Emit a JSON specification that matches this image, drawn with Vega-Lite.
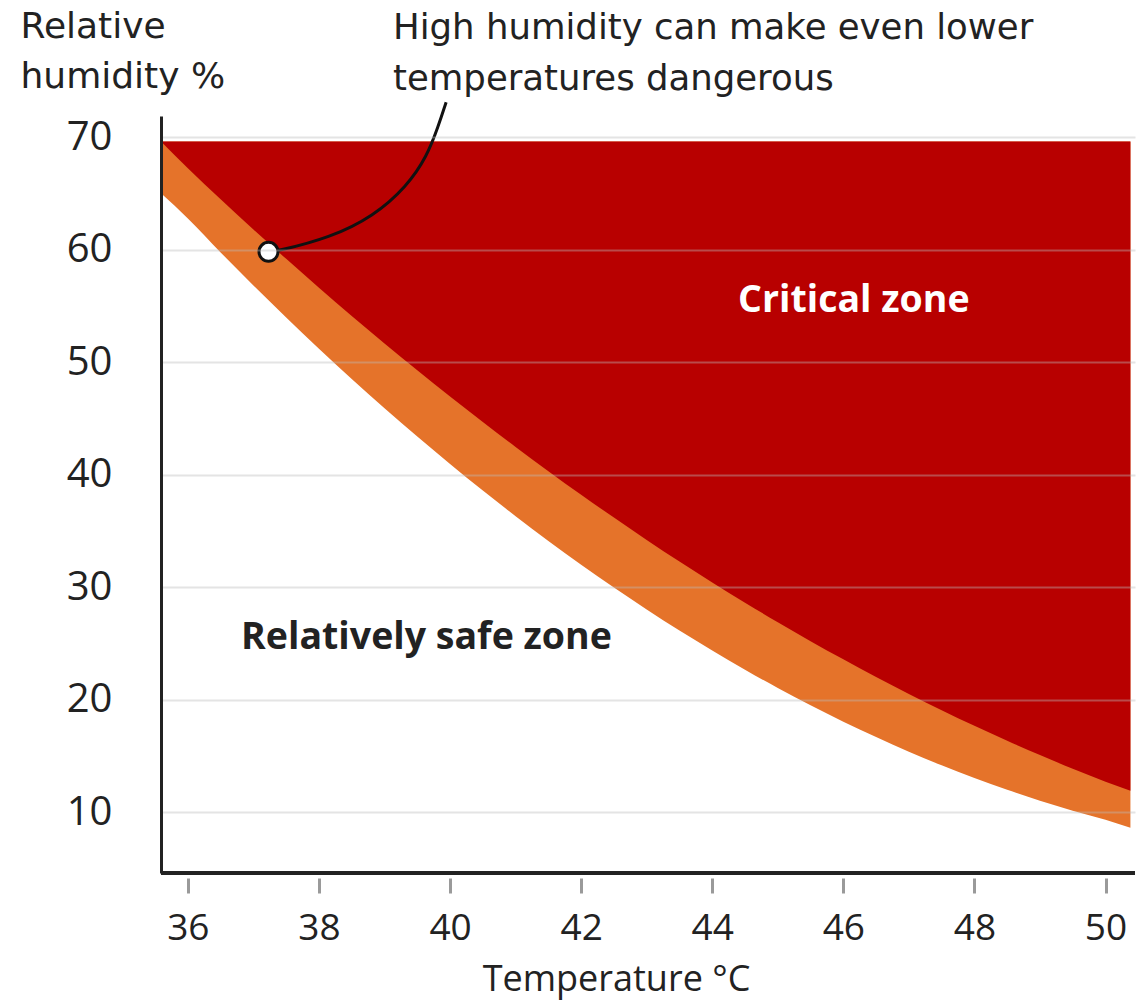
{
  "$schema": "https://vega.github.io/schema/vega-lite/v6.json",
  "width": 974,
  "height": 757,
  "autosize": {"type": "none"},
  "padding": {"left": 161, "top": 116, "right": 11, "bottom": 131},
  "background": "white",
  "config": {
    "view": {"stroke": null},
    "font": "Open Sans"
  },
  "datasets": {
    "band": [
      {"temp": 35.59, "upper": 69.6, "lower": 65.0},
      {"temp": 36.0, "upper": 67.22, "lower": 62.76},
      {"temp": 36.5, "upper": 64.47, "lower": 59.74},
      {"temp": 37.0, "upper": 61.79, "lower": 56.81},
      {"temp": 37.5, "upper": 59.17, "lower": 53.96},
      {"temp": 38.0, "upper": 56.6, "lower": 51.19},
      {"temp": 38.5, "upper": 54.1, "lower": 48.5},
      {"temp": 39.0, "upper": 51.65, "lower": 45.9},
      {"temp": 39.5, "upper": 49.26, "lower": 43.38},
      {"temp": 40.0, "upper": 46.93, "lower": 40.94},
      {"temp": 40.5, "upper": 44.66, "lower": 38.58},
      {"temp": 41.0, "upper": 42.45, "lower": 36.3},
      {"temp": 41.5, "upper": 40.3, "lower": 34.1},
      {"temp": 42.0, "upper": 38.2, "lower": 31.99},
      {"temp": 42.5, "upper": 36.17, "lower": 29.96},
      {"temp": 43.0, "upper": 34.19, "lower": 28.01},
      {"temp": 43.5, "upper": 32.27, "lower": 26.14},
      {"temp": 44.0, "upper": 30.41, "lower": 24.36},
      {"temp": 44.5, "upper": 28.61, "lower": 22.65},
      {"temp": 45.0, "upper": 26.87, "lower": 21.03},
      {"temp": 45.5, "upper": 25.19, "lower": 19.49},
      {"temp": 46.0, "upper": 23.57, "lower": 18.03},
      {"temp": 46.5, "upper": 22.0, "lower": 16.66},
      {"temp": 47.0, "upper": 20.5, "lower": 15.36},
      {"temp": 47.5, "upper": 19.05, "lower": 14.15},
      {"temp": 48.0, "upper": 17.66, "lower": 13.02},
      {"temp": 48.5, "upper": 16.33, "lower": 11.97},
      {"temp": 49.0, "upper": 15.06, "lower": 11.01},
      {"temp": 49.5, "upper": 13.85, "lower": 10.12},
      {"temp": 50.0, "upper": 12.7, "lower": 9.32},
      {"temp": 50.38, "upper": 11.9, "lower": 8.6}
    ],
    "leader": [
      {"temp": 37.23, "hum": 59.8},
      {"temp": 37.36, "hum": 59.85},
      {"temp": 38.17, "hum": 61.05},
      {"temp": 38.83, "hum": 62.95},
      {"temp": 39.34, "hum": 65.6},
      {"temp": 39.65, "hum": 68.3},
      {"temp": 39.82, "hum": 70.95},
      {"temp": 39.94, "hum": 73.1}
    ],
    "marker": [{"temp": 37.23, "hum": 59.8}],
    "labels": [
      {"temp": 46.16, "hum": 55.4, "text": "Critical zone", "kind": "critical"},
      {"temp": 39.64, "hum": 25.5, "text": "Relatively safe zone", "kind": "safe"}
    ],
    "note": [{"temp": 39.13, "hum": 78.7, "text": "High humidity can make even lower\ntemperatures dangerous"}]
  },
  "layer": [
    {
      "data": {"name": "band"},
      "mark": {"type": "area", "color": "#e5732a", "interpolate": "monotone"},
      "encoding": {
        "x": {
          "field": "temp", "type": "quantitative",
          "scale": {"domain": [35.59, 50.45], "nice": false, "zero": false},
          "axis": {
            "values": [36, 38, 40, 42, 44, 46, 48, 50],
            "format": "d",
            "domain": false,
            "offset": 5,
            "grid": false,
            "ticks": true,
            "tickSize": 15,
            "tickWidth": 3,
            "tickColor": "#9a9a9a",
            "labelFontSize": 37,
            "labelColor": "#222222",
            "labelPadding": 17,
            "labelFont": "Open Sans",
            "title": "Temperature °C",
            "titleFont": "Open Sans",
            "titleFontSize": 36,
            "titleFontWeight": "normal",
            "titleColor": "#222222",
            "titleAlign": "center",
            "titleBaseline": "top",
            "titleX": 455,
            "titleY": 84
          }
        },
        "y": {
          "field": "lower", "type": "quantitative",
          "scale": {"domain": [4.58, 71.87], "nice": false, "zero": false},
          "axis": {
            "values": [10, 20, 30, 40, 50, 60, 70],
            "domain": true,
            "domainColor": "#222222",
            "domainWidth": 3,
            "ticks": false,
            "tickSize": 0,
            "grid": true,
            "gridColor": "#bbbbbb",
            "gridOpacity": 0.4,
            "gridWidth": 2,
            "zindex": 1,
            "labelFontSize": 40,
            "labelColor": "#222222",
            "labelPadding": 49,
            "labelFont": "Open Sans",
            "title": ["Relative", "humidity %"],
            "titleFont": "DejaVu Sans",
            "titleFontSize": 36,
            "titleFontWeight": "normal",
            "titleColor": "#222222",
            "titleAngle": 0,
            "titleAlign": "left",
            "titleBaseline": "top",
            "titleLineHeight": 50,
            "titleX": -141,
            "titleY": -107
          }
        },
        "y2": {"datum": 69.6}
      }
    },
    {
      "data": {"name": "band"},
      "mark": {"type": "area", "color": "#b80000", "interpolate": "monotone"},
      "encoding": {
        "x": {"field": "temp", "type": "quantitative"},
        "y": {"field": "upper", "type": "quantitative"},
        "y2": {"datum": 69.6}
      }
    },
    {
      "data": {"name": "band"},
      "mark": {"type": "rule", "color": "#222222", "strokeWidth": 3},
      "encoding": {"y": {"datum": 4.58}}
    },
    {
      "data": {"name": "leader"},
      "mark": {"type": "line", "color": "#111111", "strokeWidth": 3, "interpolate": "basis"},
      "encoding": {
        "x": {"field": "temp", "type": "quantitative"},
        "y": {"field": "hum", "type": "quantitative"}
      }
    },
    {
      "data": {"name": "marker"},
      "mark": {"type": "point", "shape": "circle", "filled": true, "fill": "white", "stroke": "#111111", "strokeWidth": 3, "size": 360, "opacity": 1},
      "encoding": {
        "x": {"field": "temp", "type": "quantitative"},
        "y": {"field": "hum", "type": "quantitative"}
      }
    },
    {
      "data": {"name": "labels"},
      "mark": {"type": "text", "fontWeight": "bold", "fontSize": 37.5, "align": "center", "baseline": "middle", "font": "Open Sans"},
      "encoding": {
        "x": {"field": "temp", "type": "quantitative"},
        "y": {"field": "hum", "type": "quantitative"},
        "text": {"field": "text"},
        "color": {
          "field": "kind", "type": "nominal",
          "scale": {"domain": ["critical", "safe"], "range": ["#ffffff", "#222222"]},
          "legend": null
        }
      }
    },
    {
      "data": {"name": "note"},
      "mark": {"type": "text", "fontSize": 35.5, "align": "left", "baseline": "alphabetic", "lineBreak": "\n", "lineHeight": 51, "color": "#222222", "font": "DejaVu Sans"},
      "encoding": {
        "x": {"field": "temp", "type": "quantitative"},
        "y": {"field": "hum", "type": "quantitative"},
        "text": {"field": "text"}
      }
    }
  ]
}
